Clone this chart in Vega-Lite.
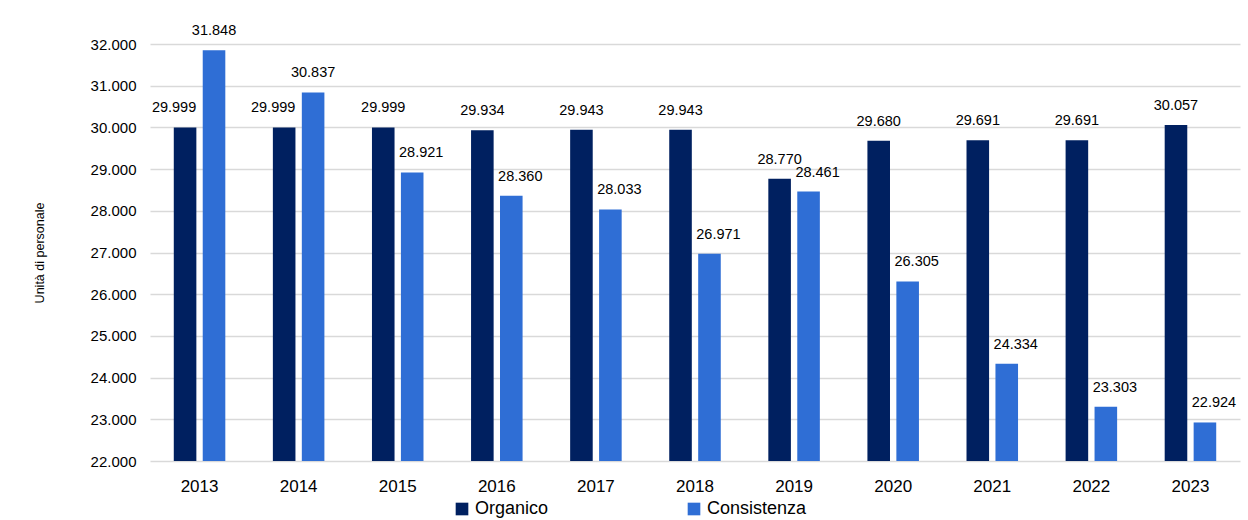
{
  "$schema": "https://vega.github.io/schema/vega-lite/v6.json",
  "width": 1090,
  "height": 417,
  "autosize": {"type": "none"},
  "padding": {"left": 150, "top": 44, "right": 8, "bottom": 59},
  "background": "white",
  "config": {
    "locale": {"number": {"decimal": ",", "thousands": ".", "grouping": [3], "currency": ["€", ""]}},
    "view": {"stroke": null},
    "font": "Liberation Sans"
  },
  "data": {
    "values": [
      {"anno": "2013", "serie": "Organico", "valore": 29999},
      {"anno": "2013", "serie": "Consistenza", "valore": 31848},
      {"anno": "2014", "serie": "Organico", "valore": 29999},
      {"anno": "2014", "serie": "Consistenza", "valore": 30837},
      {"anno": "2015", "serie": "Organico", "valore": 29999},
      {"anno": "2015", "serie": "Consistenza", "valore": 28921},
      {"anno": "2016", "serie": "Organico", "valore": 29934},
      {"anno": "2016", "serie": "Consistenza", "valore": 28360},
      {"anno": "2017", "serie": "Organico", "valore": 29943},
      {"anno": "2017", "serie": "Consistenza", "valore": 28033},
      {"anno": "2018", "serie": "Organico", "valore": 29943},
      {"anno": "2018", "serie": "Consistenza", "valore": 26971},
      {"anno": "2019", "serie": "Organico", "valore": 28770},
      {"anno": "2019", "serie": "Consistenza", "valore": 28461},
      {"anno": "2020", "serie": "Organico", "valore": 29680},
      {"anno": "2020", "serie": "Consistenza", "valore": 26305},
      {"anno": "2021", "serie": "Organico", "valore": 29691},
      {"anno": "2021", "serie": "Consistenza", "valore": 24334},
      {"anno": "2022", "serie": "Organico", "valore": 29691},
      {"anno": "2022", "serie": "Consistenza", "valore": 23303},
      {"anno": "2023", "serie": "Organico", "valore": 30057},
      {"anno": "2023", "serie": "Consistenza", "valore": 22924}
    ]
  },
  "encoding": {
    "x": {
      "field": "anno", "type": "nominal",
      "scale": {"paddingInner": 0.48, "paddingOuter": 0.24},
      "axis": {"title": null, "labelAngle": 0, "ticks": false, "domain": false, "labelFontSize": 17, "labelColor": "#000000", "labelPadding": 17, "labelBaseline": "top"}
    },
    "xOffset": {
      "field": "serie", "type": "nominal",
      "sort": ["Organico", "Consistenza"],
      "scale": {"paddingInner": 0.22, "paddingOuter": 0}
    },
    "y": {
      "field": "valore", "type": "quantitative",
      "scale": {"domain": [22000, 32000], "zero": false, "nice": false},
      "axis": {
        "title": "Unità di personale",
        "titleFontSize": 12.5, "titleFontWeight": "normal", "titleColor": "#000000", "titlePadding": 44,
        "values": [22000, 23000, 24000, 25000, 26000, 27000, 28000, 29000, 30000, 31000, 32000],
        "format": ",d", "labelFontSize": 15, "labelColor": "#000000", "labelPadding": 14,
        "ticks": false, "domain": false,
        "grid": true, "gridColor": "#D9D9D9", "gridWidth": 1.3
      }
    },
    "text": {"field": "valore", "type": "quantitative", "format": ",d"}
  },
  "layer": [
    {
      "mark": {"type": "bar"},
      "encoding": {
        "y2": {"datum": 22000},
        "color": {
          "field": "serie", "type": "nominal",
          "scale": {"domain": ["Organico", "Consistenza"], "range": ["#002060", "#2F6ED5"]},
          "legend": {
            "title": null, "orient": "none", "direction": "horizontal",
            "legendX": 303, "legendY": 456,
            "symbolType": "square", "symbolSize": 160, "symbolStrokeWidth": 0,
            "labelFontSize": 18, "labelColor": "#000000", "labelOffset": 4,
            "columnPadding": 136
          }
        }
      }
    },
    {
      "transform": [{"filter": "datum.serie == 'Organico' && (datum.anno == '2013' || datum.anno == '2014')"}],
      "mark": {"type": "text", "baseline": "alphabetic", "dy": -15, "dx": -11, "fontSize": 14.5, "color": "#000000"}
    },
    {
      "transform": [{"filter": "datum.serie == 'Organico' && datum.anno != '2013' && datum.anno != '2014'"}],
      "mark": {"type": "text", "baseline": "alphabetic", "dy": -15, "fontSize": 14.5, "color": "#000000"}
    },
    {
      "transform": [{"filter": "datum.serie == 'Consistenza' && (datum.anno == '2013' || datum.anno == '2014')"}],
      "mark": {"type": "text", "baseline": "alphabetic", "dy": -15, "fontSize": 14.5, "color": "#000000"}
    },
    {
      "transform": [{"filter": "datum.serie == 'Consistenza' && datum.anno != '2013' && datum.anno != '2014'"}],
      "mark": {"type": "text", "baseline": "alphabetic", "dy": -15, "dx": 9, "fontSize": 14.5, "color": "#000000"}
    }
  ]
}
